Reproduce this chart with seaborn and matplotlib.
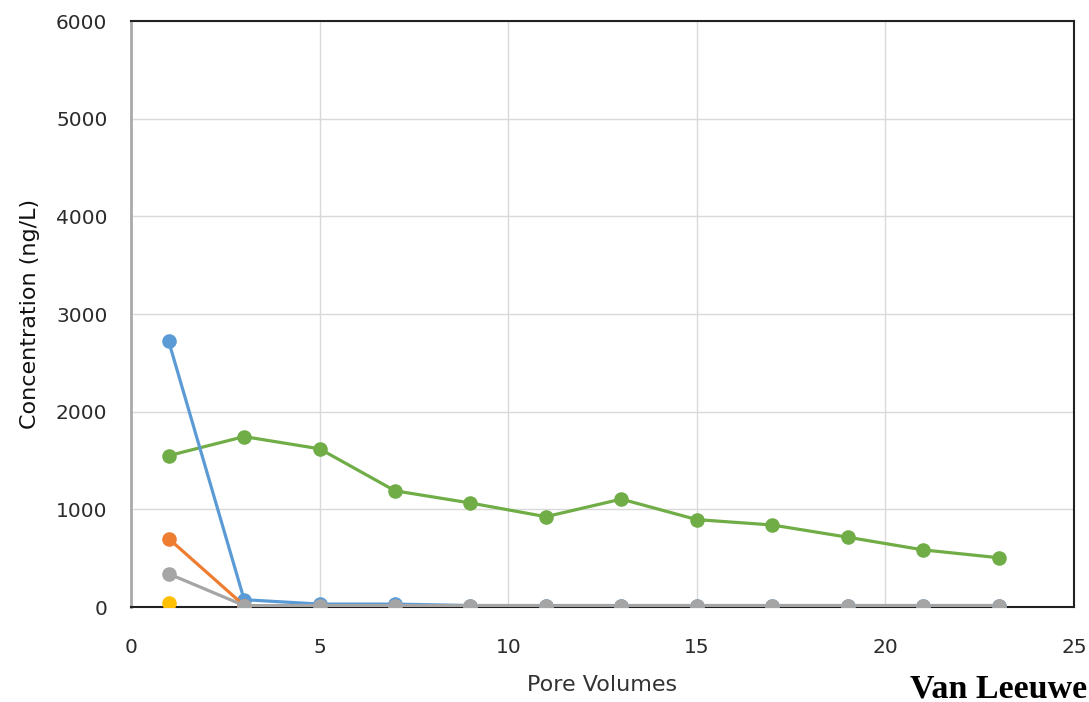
import numpy as np
import pandas as pd
import matplotlib
matplotlib.use("Agg")
import matplotlib.pyplot as plt
import seaborn as sns

sns.set_theme(style="white")
plt.rcParams['font.family'] = ['DejaVu Sans']

# pore volumes sampled
pore_volumes = [1, 3, 5, 7, 9, 11, 13, 15, 17, 19, 21, 23]

# concentrations (ng/L)
green_vals = [1550, 1745, 1620, 1190, 1065, 925, 1105, 895, 840, 715, 585, 505]
blue_vals = [2720, 75, 30, 30, 15, 15, 15, 15, 15, 15, 15, 15]
orange_vals = [700, 15]
gray_vals = [340, 15, 15, 15, 15, 15, 15, 15, 15, 15, 15, 15]
yellow_vals = [45]

series = [
    ("green", pore_volumes, green_vals, "#70AD47"),
    ("blue", pore_volumes, blue_vals, "#5B9BD5"),
    ("orange", pore_volumes[:2], orange_vals, "#ED7D31"),
    ("gray", pore_volumes, gray_vals, "#A5A5A5"),
    ("yellow", pore_volumes[:1], yellow_vals, "#FFC000"),
]

fig = plt.figure(figsize=(10.89, 7.02), dpi=100)
ax = fig.add_axes([0.1203, 0.1353, 0.8659, 0.8347])

for name, xs, ys, col in series:
    df = pd.DataFrame({"x": xs, "y": ys})
    sns.lineplot(data=df, x="x", y="y", ax=ax, color=col, marker="o",
                 markersize=10.5, markeredgewidth=0, linewidth=2.3, zorder=3)

ax.set_xlim(0, 25)
ax.set_ylim(0, 6000)
ax.set_xticks(np.arange(0, 26, 5))
ax.set_yticks(np.arange(0, 6001, 1000))
ax.grid(True, color="#D9D9D9", linewidth=1)
ax.set_axisbelow(True)
ax.tick_params(axis="both", length=0, labelsize=14.5, colors="#2b2b2b")
ax.tick_params(axis="x", pad=22)
ax.tick_params(axis="y", pad=17)

for side in ["top", "right", "bottom"]:
    ax.spines[side].set_color("#222222")
    ax.spines[side].set_linewidth(1.5)
ax.spines["left"].set_color("#AAAAAA")
ax.spines["left"].set_linewidth(2)

ax.set_xlabel("Pore Volumes", fontsize=16, color="#333333")
ax.set_ylabel("Concentration (ng/L)", fontsize=16, color="#111111")
ax.xaxis.set_label_coords(0.5, -0.116)
ax.xaxis.label.set_va("top")
ax.yaxis.set_label_coords(-0.097, 0.5)

# source credit, visible part only (the reference crops it at the right edge)
fig.text(0.998, 0.0071, "Van Leeuwe", fontsize=24.5, fontweight="bold",
         family=["Liberation Serif", "DejaVu Serif"], color="black",
         ha="right", va="baseline")

fig.savefig("out.png", dpi=100)
